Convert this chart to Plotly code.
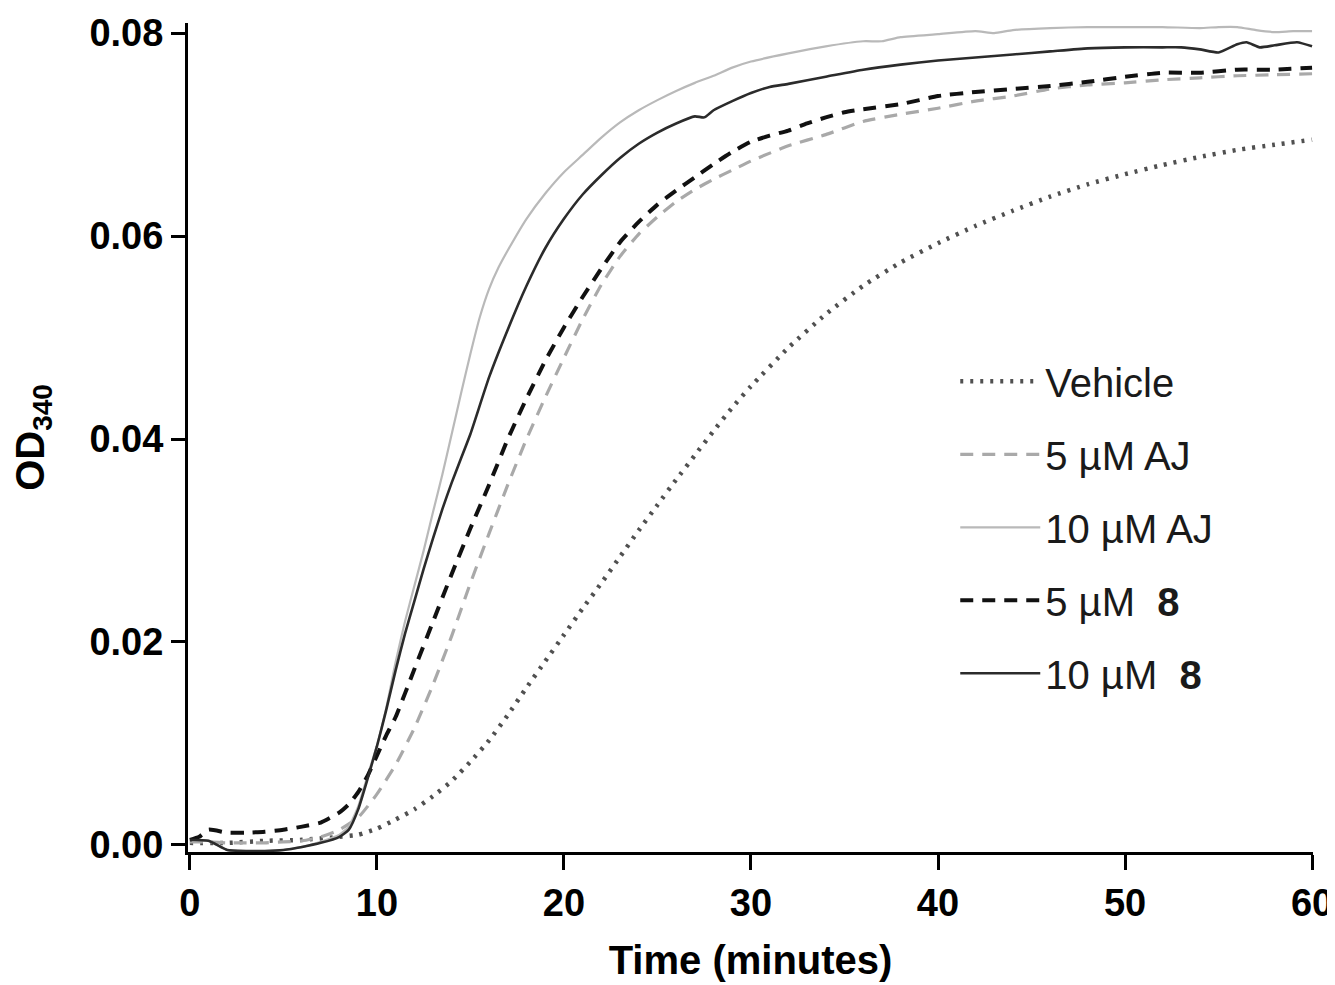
import plotly.graph_objects as go

# ---------------- data ----------------
t_vehicle = [0, 2, 4, 6, 8, 9, 10, 11, 12, 13, 14, 15, 16, 17, 18, 19, 20, 21, 22, 23, 24, 25,
             26, 27, 28, 29, 30, 32, 34, 36, 38, 40, 42, 44, 46, 48, 50, 52, 54, 56, 58, 60]
od_vehicle = [0.0002, 0.0002, 0.0004, 0.0005, 0.0008, 0.0010, 0.0016, 0.0025, 0.0035, 0.0048,
              0.0063, 0.0082, 0.0103, 0.0128, 0.0155, 0.0181, 0.0207, 0.0233, 0.0258, 0.0284,
              0.0310, 0.0335, 0.0360, 0.0384, 0.0408, 0.0431, 0.0452, 0.0490, 0.0523, 0.0551,
              0.0574, 0.0593, 0.0610, 0.0625, 0.0639, 0.0651, 0.0661, 0.0670, 0.0678, 0.0685,
              0.0690, 0.0695]

t_aj5 = [0, 1, 2, 3, 4, 5, 6, 7, 8, 9, 10, 11, 12, 13, 14, 15, 16, 17, 18, 19, 20, 21, 22, 23,
         24, 25, 26, 27, 28, 29, 30, 32, 34, 36, 38, 40, 42, 44, 46, 48, 50, 52, 54, 56, 58, 60]
od_aj5 = [0.0003, 0.0003, 0.0002, 0.0002, 0.0002, 0.0003, 0.0004, 0.0008, 0.0015, 0.0027,
          0.0050, 0.0079, 0.0115, 0.0158, 0.0206, 0.0258, 0.0307, 0.0355, 0.0400, 0.0441,
          0.0480, 0.0518, 0.0552, 0.0580, 0.0602, 0.0619, 0.0634, 0.0646, 0.0656, 0.0665,
          0.0674, 0.0689, 0.0700, 0.0713, 0.0720, 0.0726, 0.0733, 0.0738, 0.0745, 0.0749,
          0.0751, 0.0754, 0.0756, 0.0758, 0.0759, 0.0760]

t_aj10 = [0, 1, 2, 3, 4, 5, 6, 7, 8, 8.5, 9, 9.5, 10, 10.5, 11, 11.5, 12, 12.5, 13, 13.5, 14,
          14.5, 15, 15.5, 16, 16.5, 17, 18, 19, 20, 21, 22, 23, 24, 25, 26, 27, 28, 29, 30,
          32, 34, 36, 37, 38, 40, 42, 43, 44, 46, 48, 50, 52, 54, 55, 56, 57, 58, 59, 60]
od_aj10 = [0.0005, 0.0004, -0.0005, -0.0006, -0.0006, -0.0005, -0.0002, 0.0003, 0.0010,
           0.0018, 0.0038, 0.0068, 0.0098, 0.0135, 0.0180, 0.0220, 0.0255, 0.0290, 0.0328,
           0.0365, 0.0405, 0.0445, 0.0484, 0.0520, 0.0548, 0.0569, 0.0586, 0.0617, 0.0642,
           0.0663, 0.0680, 0.0697, 0.0712, 0.0724, 0.0734, 0.0743, 0.0751, 0.0758, 0.0766,
           0.0772, 0.0780, 0.0787, 0.0792, 0.0792, 0.0796, 0.0799, 0.0802, 0.0800, 0.0803,
           0.0805, 0.0806, 0.0806, 0.0806, 0.0805, 0.0806, 0.0806, 0.0803, 0.0801, 0.0802,
           0.0802]

t_c8_5 = [0, 0.5, 1, 2, 3, 4, 5, 6, 7, 8, 8.5, 9, 9.5, 10, 10.5, 11, 12, 13, 14, 15, 16, 17,
          18, 19, 20, 21, 22, 23, 24, 25, 26, 27, 28, 29, 30, 31, 32, 33, 34, 35, 36, 38, 40,
          42, 44, 46, 48, 50, 52, 54, 56, 58, 60]
od_c8_5 = [0.0005, 0.0008, 0.0015, 0.0012, 0.0012, 0.0013, 0.0015, 0.0018, 0.0022, 0.0032,
           0.0040, 0.0052, 0.0068, 0.0088, 0.0108, 0.0126, 0.0173, 0.0220, 0.0267, 0.0312,
           0.0355, 0.0400, 0.0440, 0.0477, 0.0510, 0.0540, 0.0568, 0.0594, 0.0614, 0.0631,
           0.0645, 0.0658, 0.0671, 0.0683, 0.0693, 0.0699, 0.0704, 0.0711, 0.0717, 0.0722,
           0.0725, 0.0730, 0.0738, 0.0742, 0.0745, 0.0748, 0.0752, 0.0757, 0.0761, 0.0761,
           0.0764, 0.0764, 0.0766]

t_c8_10 = [0, 1, 2, 3, 4, 5, 6, 7, 8, 8.5, 9, 9.5, 10, 10.5, 11, 11.5, 12, 12.5, 13, 13.5,
           14, 14.5, 15, 16, 17, 18, 19, 20, 21, 22, 23, 24, 25, 26, 27, 27.5, 28, 29, 30, 31,
           32, 34, 36, 38, 40, 42, 44, 46, 48, 50, 52, 53, 54, 55, 56, 56.5, 57.2, 58, 59.2, 60]
od_c8_10 = [0.0005, 0.0004, -0.0005, -0.0006, -0.0006, -0.0005, -0.0002, 0.0002, 0.0008,
            0.0015, 0.0035, 0.0065, 0.0097, 0.0133, 0.0172, 0.0208, 0.0240, 0.0272, 0.0302,
            0.0331, 0.0357, 0.0381, 0.0405, 0.0461, 0.0508, 0.0551, 0.0588, 0.0617, 0.0641,
            0.0660, 0.0677, 0.0691, 0.0702, 0.0711, 0.0718, 0.0717, 0.0724, 0.0733, 0.0741,
            0.0747, 0.0750, 0.0757, 0.0764, 0.0769, 0.0773, 0.0776, 0.0779, 0.0782, 0.0785,
            0.0786, 0.0786, 0.0786, 0.0784, 0.0781, 0.0789, 0.0791, 0.0786, 0.0788, 0.0791,
            0.0787]

series_names = ["Vehicle", "5 µM AJ", "10 µM AJ",
                "5 µM\u00a0\u00a0<b>8</b>", "10 µM\u00a0\u00a0<b>8</b>"]

x_ticks = [0, 10, 20, 30, 40, 50, 60]
y_ticks = [0.00, 0.02, 0.04, 0.06, 0.08]

# ---------------- figure ----------------
styles = [
    dict(color="#505050", width=4.5, dash="3px,7px"),
    dict(color="#a9a9a9", width=3.2, dash="13px,9px"),
    dict(color="#b9b9b9", width=2.2, dash="solid"),
    dict(color="#111111", width=4, dash="13px,9px"),
    dict(color="#2b2b2b", width=2.6, dash="solid"),
]
data = [(t_vehicle, od_vehicle), (t_aj5, od_aj5), (t_aj10, od_aj10),
        (t_c8_5, od_c8_5), (t_c8_10, od_c8_10)]

fig = go.Figure()
for i, ((tx, ty), name, st) in enumerate(zip(data, series_names, styles)):
    fig.add_trace(go.Scatter(
        x=tx, y=ty, mode="lines", name=name, legendgroup=f"g{i}",
        line=dict(color=st["color"], width=st["width"], dash=st["dash"],
                  shape="spline", smoothing=0.5),
    ))

tick_font = dict(family="Liberation Sans", size=38, color="black", weight="bold")
title_font = dict(family="Liberation Sans", size=40, color="black", weight="bold")

fig.update_layout(
    width=1335, height=985,
    margin=dict(l=180, r=30, t=15, b=141),
    paper_bgcolor="white", plot_bgcolor="white",
    showlegend=True,
    legend=dict(
        x=0.682, y=0.607, xanchor="left", yanchor="top",
        font=dict(family="Liberation Sans", size=40, color="#1a1a1a"),
        bgcolor="rgba(0,0,0,0)", tracegroupgap=18, itemwidth=80,
    ),
    xaxis=dict(
        range=[-0.1, 60.05], tickvals=x_ticks, automargin=False,
        showline=True, linecolor="black", linewidth=3,
        ticks="outside", ticklen=15, tickwidth=3, tickcolor="black",
        showgrid=False, zeroline=False, tickfont=tick_font,
        title=dict(text="Time (minutes)", font=title_font, standoff=24),
    ),
    yaxis=dict(
        range=[-0.0007, 0.081], tickvals=y_ticks, tickformat=".2f", automargin=False,
        showline=True, linecolor="black", linewidth=3,
        ticks="outside", ticklen=14, tickwidth=3, tickcolor="black",
        showgrid=False, zeroline=False, tickfont=tick_font,
        title=dict(text="OD<sub>340</sub>", font=title_font, standoff=46),
    ),
)

fig.write_html("out.html")
